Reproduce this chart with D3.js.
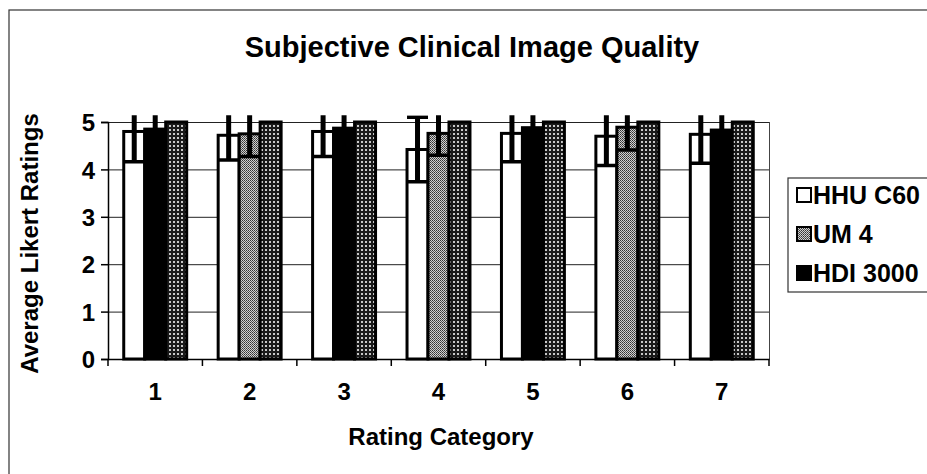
<!DOCTYPE html>
<html lang="en">
<head>
    <meta charset="UTF-8">
    <title>Subjective Clinical Image Quality</title>
    <script src="https://d3js.org/d3.v7.min.js"></script>
    <style>
        body {
            margin: 0;
            background: #fff;
            font-family: 'Liberation Sans', Arial, sans-serif;
        }
        text {
            font-family: 'Liberation Sans', Arial, sans-serif;
            fill: #000;
        }
        .grid line { stroke: #222; stroke-width: 1px; }
    </style>
</head>
<body>
    <svg id="chart" width="927" height="474"></svg>

    <script>
        // values
        const categories = ["1", "2", "3", "4", "5", "6", "7"];
        const hhuMeans  = [4.80, 4.72, 4.80, 4.42, 4.76, 4.70, 4.74];
        const hhuErrors = [0.64, 0.52, 0.53, 0.68, 0.60, 0.62, 0.61];
        // the middle bar of each group is either UM 4 or HDI 3000
        const midSeries = ["HDI 3000", "UM 4", "HDI 3000", "UM 4", "HDI 3000", "UM 4", "HDI 3000"];
        const midMeans  = [4.85, 4.75, 4.87, 4.76, 4.88, 4.89, 4.83];
        const midErrors = [0.60, 0.48, 0.55, 0.46, 0.50, 0.48, 0.56];
        // third (cross-hatched) bar, not listed in the legend
        const refMeans  = [5, 5, 5, 5, 5, 5, 5];
        const yTicks = [0, 1, 2, 3, 4, 5];
        const legendItems = ["HHU C60", "UM 4", "HDI 3000"];

        const svg = d3.select("#chart");
        const plot = { left: 108, right: 769, top: 122, bottom: 359 };

        // patterns for the scanned fills
        const defs = svg.append("defs");
        const speckle = defs.append("pattern")
            .attr("id", "speckle").attr("patternUnits", "userSpaceOnUse")
            .attr("width", 2).attr("height", 2);
        speckle.append("rect").attr("width", 2).attr("height", 2).attr("fill", "#d0d0d0");
        speckle.append("rect").attr("width", 1).attr("height", 1).attr("fill", "#333");
        speckle.append("rect").attr("x", 1).attr("y", 1).attr("width", 1).attr("height", 1).attr("fill", "#555");

        const hatch = defs.append("pattern")
            .attr("id", "hatch").attr("patternUnits", "userSpaceOnUse")
            .attr("width", 4).attr("height", 4);
        hatch.append("rect").attr("width", 4).attr("height", 4).attr("fill", "#1a1a1a");
        hatch.append("rect").attr("x", 1).attr("y", 1).attr("width", 2).attr("height", 2).attr("fill", "#c8c8c8");

        const fills = { "HHU C60": "#fff", "UM 4": "url(#speckle)", "HDI 3000": "#000", "ref": "url(#hatch)" };

        const y = d3.scaleLinear().domain([0, 5]).range([plot.bottom, plot.top]);
        const x = d3.scaleBand().domain(categories).range([plot.left, plot.right]);
        const xSub = d3.scaleBand().domain([0, 1, 2]).range([0, x.bandwidth()]).paddingOuter(0.75);

        defs.append("clipPath").attr("id", "clip")
            .append("rect")
            .attr("x", plot.left).attr("y", y(5.14))
            .attr("width", plot.right - plot.left).attr("height", plot.bottom - y(5.14));

        // outer chart frame
        svg.append("rect")
            .attr("x", 9).attr("y", 10).attr("width", 940).attr("height", 480)
            .attr("fill", "none").attr("stroke", "#333").attr("stroke-width", 1.2);

        // title
        svg.append("text")
            .attr("x", 472).attr("y", 57)
            .attr("text-anchor", "middle")
            .style("font-size", "29px").style("font-weight", "bold")
            .text("Subjective Clinical Image Quality");

        // gridlines
        svg.append("g").attr("class", "grid")
            .selectAll("line").data(yTicks.slice(1)).join("line")
            .attr("x1", plot.left).attr("x2", plot.right)
            .attr("y1", d => y(d) + 0.5).attr("y2", d => y(d) + 0.5);
        svg.append("line")
            .attr("x1", plot.right + 0.5).attr("x2", plot.right + 0.5)
            .attr("y1", plot.top).attr("y2", plot.bottom)
            .attr("stroke", "#444");

        // y axis
        const yAxis = svg.append("g")
            .attr("transform", `translate(${plot.left},0)`)
            .call(d3.axisLeft(y).tickValues(yTicks).tickFormat(d3.format("d")).tickSize(7).tickPadding(6));
        yAxis.select(".domain").attr("stroke", "#000").attr("stroke-width", 1.5);
        yAxis.selectAll(".tick line").attr("stroke", "#000").attr("stroke-width", 1.5);
        yAxis.selectAll("text").style("font-size", "24px").style("font-weight", "bold")
            .attr("dy", "0.36em");

        // x axis
        const xAxis = svg.append("g")
            .attr("transform", `translate(0,${plot.bottom})`)
            .call(d3.axisBottom(x).tickSize(0).tickPadding(24));
        xAxis.select(".domain").attr("stroke", "#000").attr("stroke-width", 1.5);
        xAxis.selectAll("text").style("font-size", "24px").style("font-weight", "bold");
        // category boundary ticks
        svg.append("g").selectAll("line")
            .data(categories.concat(["end"])).join("line")
            .attr("x1", (d, i) => plot.left + i * x.step())
            .attr("x2", (d, i) => plot.left + i * x.step())
            .attr("y1", plot.bottom).attr("y2", plot.bottom + 7)
            .attr("stroke", "#000").attr("stroke-width", 1.5);

        // axis titles
        svg.append("text")
            .attr("transform", `translate(38,${(plot.top + plot.bottom) / 2 + 3}) rotate(-90)`)
            .attr("text-anchor", "middle")
            .style("font-size", "24px").style("font-weight", "bold")
            .text("Average Likert Ratings");
        svg.append("text")
            .attr("x", 441).attr("y", 445)
            .attr("text-anchor", "middle")
            .style("font-size", "24px").style("font-weight", "bold")
            .text("Rating Category");

        // bars
        const rows = categories.map((c, i) => ([
            { cat: c, slot: 0, value: hhuMeans[i], err: hhuErrors[i], fill: fills["HHU C60"] },
            { cat: c, slot: 1, value: midMeans[i], err: midErrors[i], fill: fills[midSeries[i]] },
            { cat: c, slot: 2, value: refMeans[i], err: 0, fill: fills.ref }
        ]));
        const bars = rows.flat();

        svg.append("g").selectAll("rect")
            .data(bars).join("rect")
            .attr("x", d => x(d.cat) + xSub(d.slot))
            .attr("y", d => y(d.value))
            .attr("width", xSub.bandwidth())
            .attr("height", d => y(0) - y(d.value))
            .attr("fill", d => d.fill)
            .attr("stroke", "#000").attr("stroke-width", 3);

        // error bars
        const errG = svg.append("g").attr("clip-path", "url(#clip)");
        const withErr = bars.filter(d => d.err > 0);
        errG.selectAll(".whisker").data(withErr).join("line").attr("class", "whisker")
            .attr("x1", d => x(d.cat) + xSub(d.slot) + xSub.bandwidth() / 2)
            .attr("x2", d => x(d.cat) + xSub(d.slot) + xSub.bandwidth() / 2)
            .attr("y1", d => y(d.value + d.err)).attr("y2", d => y(d.value - d.err))
            .attr("stroke", "#000").attr("stroke-width", 5);
        errG.selectAll(".cap").data(withErr.flatMap(d => [
                { d, v: d.value + d.err }, { d, v: d.value - d.err }
            ])).join("line").attr("class", "cap")
            .attr("x1", c => x(c.d.cat) + xSub(c.d.slot))
            .attr("x2", c => x(c.d.cat) + xSub(c.d.slot) + xSub.bandwidth())
            .attr("y1", c => y(c.v)).attr("y2", c => y(c.v))
            .attr("stroke", "#000").attr("stroke-width", 3.5);

        // legend
        const legend = svg.append("g").attr("transform", "translate(788,178)");
        legend.append("rect")
            .attr("width", 160).attr("height", 114)
            .attr("fill", "#fff").attr("stroke", "#333").attr("stroke-width", 1.2);
        const li = legend.selectAll(".item").data(legendItems).join("g")
            .attr("transform", (d, i) => `translate(9,${17 + i * 39})`);
        li.append("rect")
            .attr("y", -7).attr("width", 14).attr("height", 14)
            .attr("fill", d => fills[d]).attr("stroke", "#000").attr("stroke-width", 2);
        li.append("text")
            .attr("x", 16).attr("dy", "0.36em")
            .style("font-size", "25px").style("font-weight", "bold")
            .text(d => d);
    </script>
</body>
</html>
